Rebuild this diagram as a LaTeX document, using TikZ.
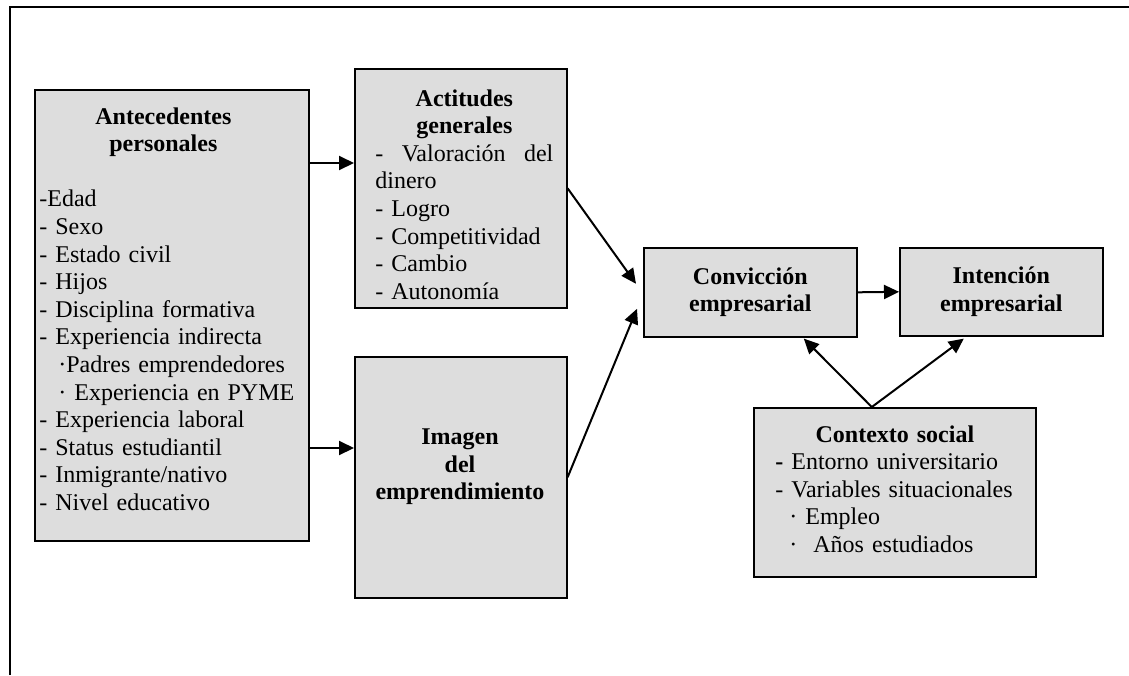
\documentclass[tikz,border=0pt]{standalone}
\usepackage{fontspec}
\setmainfont{Liberation Serif}
\usetikzlibrary{arrows.meta}
\definecolor{boxfill}{RGB}{221,221,221}
\setlength{\parindent}{0pt}
\begin{document}
\begin{tikzpicture}[x=0.5pt,y=-0.5pt,
  font=\fontsize{12}{13.8}\selectfont,
  box/.style={draw=black, line width=0.8pt, fill=boxfill, inner sep=0pt, anchor=north west, align=center, font=\fontsize{12}{13.8}\selectfont\bfseries},
  txt/.style={inner sep=0pt, anchor=north west, align=left},
  link/.style={line width=1pt, -{Triangle[length=7.5pt,width=7pt]}},
  frame/.style={line width=1pt}]
\useasboundingbox (0,0) rectangle (1129,675);

% open frame: top and left edges only
\draw[frame] (10,675) -- (10,7) -- (1129,7);

% boxes
\node[box, minimum width=137pt, minimum height=225.5pt] (ant) at (34,89) {};
\node[box, minimum width=106pt, minimum height=119.5pt] (act) at (354,68) {};
\node[box, minimum width=106pt, minimum height=120.5pt] (img) at (354,356) {};
\node[box, minimum width=106.5pt, minimum height=44.5pt] (conv) at (643,247) {Convicción\\empresarial};
\node[box, minimum width=101.5pt, minimum height=44pt] (int) at (899,247) {Intención\\empresarial};
\node[box, minimum width=141pt, minimum height=84.5pt] (ctx) at (753,407) {};

% box contents
\node[txt, text width=134pt] (antT) at (39,107) {%
  {\centering\rightskip=10pt plus 1fil\bfseries Antecedentes\\personales\par}
  \vspace{\baselineskip}
  -Edad\\
  - Sexo\\
  - Estado civil\\
  - Hijos\\
  - Disciplina formativa\\
  - Experiencia indirecta\\
  \hspace*{9.5pt}·Padres emprendedores\\
  \hspace*{9.5pt}· Experiencia en PYME\\
  - Experiencia laboral\\
  - Status estudiantil\\
  - Inmigrante/nativo\\
  - Nivel educativo};

\node[txt, text width=89pt] (actT) at (375,89) {%
  {\centering\bfseries Actitudes\\generales\par}
  \hbox to \hsize{-\hfill Valoración\hfill del}
  dinero\\
  - Logro\\
  - Competitividad\\
  - Cambio\\
  - Autonomía};

\node[inner sep=0pt, align=center, font=\fontsize{12}{13.8}\selectfont\bfseries] (imgT) at (460,467) {Imagen\\del\\emprendimiento};

\node[txt, text width=119.5pt] (ctxT) at (775,425) {%
  {\centering\bfseries Contexto social\par}
  \textbf{-} Entorno universitario\\
  - Variables situacionales\\
  \hspace*{7pt}· Empleo\\
  \hspace*{7pt}·\ \ Años estudiados};

% connectors
\draw[link] (ant.east |- 0,163) -- (act.west |- 0,163);
\draw[link] (ant.east |- 0,448) -- (img.west |- 0,448);
\draw[link] (act.east) -- ([shift={(-7,-8.5)}]conv.west);
\draw[link] (img.east) -- ([shift={(-6,16.5)}]conv.west);
\draw[link] (conv.east) -- (int.west);
\coordinate (apex) at ([shift={(-23,0)}]ctx.north);
\draw[link] (apex) -- ([shift={(53.5,1)}]conv.south);
\draw[link] (apex) -- ([shift={(-37.5,2)}]int.south);
\end{tikzpicture}
\end{document}
